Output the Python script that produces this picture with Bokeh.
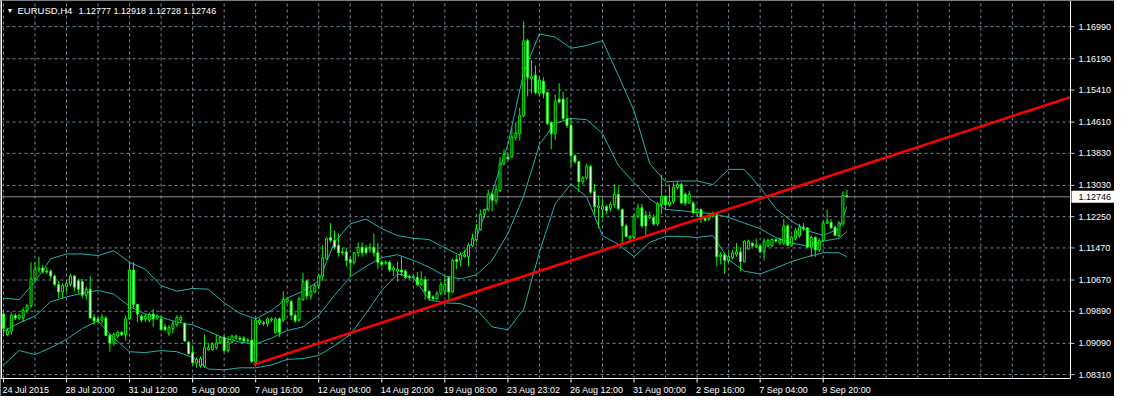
import numpy as np
from bokeh.plotting import figure
from bokeh.models import Range1d, Label, ColumnDataSource
from bokeh.core.properties import value
from bokeh.embed import file_html
from bokeh.resources import INLINE

symbol_title = "EURUSD,H4"
ohlc_title = "1.12777 1.12918 1.12728 1.12746"

opens = [
    1.0982, 1.0931, 1.0939, 1.0979, 1.0972, 1.0972, 1.0991, 1.1003, 1.1070, 1.1092,
    1.1097, 1.1089, 1.1089, 1.1077, 1.1056, 1.1037, 1.1051, 1.1056, 1.1077, 1.1065,
    1.1063, 1.1029, 1.1044, 1.0974, 1.0970, 1.0967, 1.0972, 1.0929, 1.0910, 1.0927,
    1.0936, 1.0931, 1.0970, 1.1092, 1.1006, 1.0977, 1.0970, 1.0967, 1.0982, 1.0972,
    1.0970, 1.0950, 1.0934, 1.0946, 1.0955, 1.0967, 1.0958, 1.0912, 1.0886, 1.0860,
    1.0852, 1.0852, 1.0893, 1.0893, 1.0898, 1.0910, 1.0924, 1.0891, 1.0912, 1.0922,
    1.0922, 1.0922, 1.0915, 1.0917, 1.0862, 1.0960, 1.0960, 1.0958, 1.0967, 1.0936,
    1.0970, 1.0967, 1.1013, 1.1013, 1.0979, 1.0967, 1.1018, 1.1065, 1.1027, 1.1037,
    1.1053, 1.1077, 1.1120, 1.1173, 1.1166, 1.1154, 1.1135, 1.1137, 1.1118, 1.1111,
    1.1135, 1.1149, 1.1147, 1.1144, 1.1149, 1.1135, 1.1111, 1.1109, 1.1111, 1.1092,
    1.1089, 1.1092, 1.1089, 1.1075, 1.1073, 1.1073, 1.1056, 1.1068, 1.1039, 1.1025,
    1.1020, 1.1034, 1.1039, 1.1073, 1.1037, 1.1118, 1.1116, 1.1125, 1.1125, 1.1152,
    1.1168, 1.1192, 1.1231, 1.1243, 1.1281, 1.1264, 1.1290, 1.1357, 1.1374, 1.1374,
    1.1422, 1.1432, 1.1477, 1.1664, 1.1570, 1.1578, 1.1532, 1.1563, 1.1535, 1.1460,
    1.1432, 1.1518, 1.1518, 1.1470, 1.1453, 1.1377, 1.1362, 1.1312, 1.1322, 1.1350,
    1.1288, 1.1247, 1.1243, 1.1250, 1.1245, 1.1255, 1.1281, 1.1243, 1.1202, 1.1171,
    1.1173, 1.1226, 1.1247, 1.1228, 1.1223, 1.1223, 1.1207, 1.1255, 1.1276, 1.1255,
    1.1262, 1.1298, 1.1305, 1.1281, 1.1259, 1.1259, 1.1235, 1.1243, 1.1221, 1.1219,
    1.1226, 1.1228, 1.1125, 1.1130, 1.1116, 1.1123, 1.1130, 1.1137, 1.1113, 1.1144,
    1.1159, 1.1149, 1.1152, 1.1137, 1.1152, 1.1152, 1.1168, 1.1159, 1.1159, 1.1202,
    1.1154, 1.1171, 1.1178, 1.1199, 1.1197, 1.1149, 1.1173, 1.1142, 1.1166, 1.1209,
    1.1211, 1.1199, 1.1178, 1.1207, 1.12777,
]
highs = [
    1.0994, 1.0948, 1.0986, 1.0984, 1.0984, 1.0998, 1.1008, 1.1111, 1.1111, 1.1125,
    1.1104, 1.1099, 1.1094, 1.1080, 1.1065, 1.1058, 1.1063, 1.1082, 1.1080, 1.1070,
    1.1070, 1.1051, 1.1077, 1.0982, 1.0974, 1.0982, 1.0977, 1.0934, 1.0936, 1.0941,
    1.0939, 1.0979, 1.1113, 1.1111, 1.1008, 1.0982, 1.0982, 1.0986, 1.0994, 1.0982,
    1.0979, 1.0958, 1.0955, 1.0965, 1.0979, 1.0979, 1.0962, 1.0915, 1.0903, 1.0874,
    1.0876, 1.0931, 1.0910, 1.0912, 1.0931, 1.0927, 1.0929, 1.0927, 1.0931, 1.0931,
    1.0927, 1.0927, 1.0922, 1.0970, 1.0974, 1.0972, 1.0965, 1.0974, 1.0974, 1.0974,
    1.0974, 1.1039, 1.1025, 1.1018, 1.0986, 1.1025, 1.1085, 1.1068, 1.1053, 1.1058,
    1.1082, 1.1154, 1.1173, 1.1209, 1.1190, 1.1183, 1.1147, 1.1147, 1.1125, 1.1137,
    1.1161, 1.1161, 1.1154, 1.1159, 1.1183, 1.1159, 1.1116, 1.1116, 1.1116, 1.1101,
    1.1113, 1.1125, 1.1094, 1.1080, 1.1080, 1.1087, 1.1089, 1.1077, 1.1041, 1.1029,
    1.1039, 1.1063, 1.1077, 1.1075, 1.1120, 1.1130, 1.1137, 1.1142, 1.1159, 1.1183,
    1.1207, 1.1243, 1.1245, 1.1293, 1.1286, 1.1305, 1.1374, 1.1393, 1.1386, 1.1448,
    1.1460, 1.1496, 1.1712, 1.1669, 1.1616, 1.1602, 1.1575, 1.1573, 1.1537, 1.1463,
    1.1530, 1.1558, 1.1537, 1.1523, 1.1470, 1.1381, 1.1365, 1.1326, 1.1357, 1.1355,
    1.1307, 1.1278, 1.1269, 1.1255, 1.1262, 1.1305, 1.1302, 1.1245, 1.1207, 1.1178,
    1.1233, 1.1257, 1.1257, 1.1240, 1.1238, 1.1231, 1.1262, 1.1329, 1.1278, 1.1305,
    1.1310, 1.1314, 1.1310, 1.1286, 1.1290, 1.1264, 1.1245, 1.1245, 1.1226, 1.1233,
    1.1238, 1.1231, 1.1137, 1.1135, 1.1135, 1.1142, 1.1159, 1.1147, 1.1166, 1.1168,
    1.1161, 1.1171, 1.1156, 1.1171, 1.1171, 1.1171, 1.1171, 1.1173, 1.1219, 1.1207,
    1.1178, 1.1197, 1.1207, 1.1209, 1.1199, 1.1178, 1.1176, 1.1171, 1.1214, 1.1243,
    1.1219, 1.1202, 1.1214, 1.1288, 1.12918,
]
lows = [
    1.0927, 1.0927, 1.0931, 1.0967, 1.0967, 1.0962, 1.0984, 1.0998, 1.1063, 1.1085,
    1.1082, 1.1082, 1.1070, 1.1051, 1.1022, 1.1022, 1.1039, 1.1051, 1.1039, 1.1034,
    1.1022, 1.1018, 1.0970, 1.0955, 1.0960, 1.0958, 1.0927, 1.0888, 1.0903, 1.0922,
    1.0927, 1.0915, 1.0967, 1.0998, 1.0962, 1.0962, 1.0962, 1.0962, 1.0950, 1.0967,
    1.0941, 1.0939, 1.0927, 1.0934, 1.0950, 1.0960, 1.0912, 1.0881, 1.0855, 1.0848,
    1.0848, 1.0848, 1.0891, 1.0891, 1.0893, 1.0907, 1.0888, 1.0886, 1.0910, 1.0917,
    1.0915, 1.0910, 1.0912, 1.0860, 1.0857, 1.0955, 1.0953, 1.0950, 1.0962, 1.0934,
    1.0924, 1.0962, 1.1010, 1.0967, 1.0960, 1.0962, 1.1015, 1.1018, 1.1018, 1.1034,
    1.1044, 1.1065, 1.1118, 1.1161, 1.1144, 1.1125, 1.1130, 1.1101, 1.1077, 1.1106,
    1.1125, 1.1125, 1.1130, 1.1135, 1.1125, 1.1094, 1.1101, 1.1104, 1.1087, 1.1077,
    1.1063, 1.1077, 1.1070, 1.1068, 1.1068, 1.1051, 1.1051, 1.1018, 1.1015, 1.1018,
    1.1018, 1.1029, 1.1029, 1.1015, 1.1034, 1.1094, 1.1101, 1.1123, 1.1101, 1.1149,
    1.1161, 1.1190, 1.1221, 1.1238, 1.1238, 1.1255, 1.1286, 1.1353, 1.1365, 1.1372,
    1.1415, 1.1415, 1.1472, 1.1525, 1.1532, 1.1530, 1.1525, 1.1520, 1.1453, 1.1393,
    1.1417, 1.1508, 1.1465, 1.1446, 1.1350, 1.1357, 1.1286, 1.1305, 1.1317, 1.1281,
    1.1231, 1.1197, 1.1221, 1.1231, 1.1238, 1.1247, 1.1240, 1.1154, 1.1173, 1.1166,
    1.1171, 1.1221, 1.1197, 1.1176, 1.1219, 1.1202, 1.1202, 1.1231, 1.1243, 1.1250,
    1.1257, 1.1293, 1.1257, 1.1252, 1.1257, 1.1231, 1.1226, 1.1209, 1.1214, 1.1214,
    1.1223, 1.1101, 1.1106, 1.1082, 1.1111, 1.1118, 1.1125, 1.1089, 1.1111, 1.1142,
    1.1149, 1.1147, 1.1135, 1.1116, 1.1149, 1.1149, 1.1161, 1.1154, 1.1154, 1.1152,
    1.1149, 1.1166, 1.1173, 1.1190, 1.1147, 1.1125, 1.1125, 1.1137, 1.1161, 1.1207,
    1.1195, 1.1176, 1.1173, 1.1204, 1.12728,
]
closes = [
    1.0946, 1.0941, 1.0979, 1.0972, 1.0979, 1.0991, 1.1003, 1.1070, 1.1094, 1.1097,
    1.1089, 1.1087, 1.1077, 1.1056, 1.1037, 1.1053, 1.1058, 1.1077, 1.1049, 1.1044,
    1.1029, 1.1044, 1.0972, 1.0965, 1.0965, 1.0974, 1.0929, 1.0910, 1.0931, 1.0936,
    1.0931, 1.0970, 1.1092, 1.1006, 1.0982, 1.0967, 1.0977, 1.0982, 1.0970, 1.0977,
    1.0943, 1.0943, 1.0948, 1.0958, 1.0974, 1.0974, 1.0915, 1.0883, 1.0860, 1.0869,
    1.0871, 1.0898, 1.0898, 1.0907, 1.0910, 1.0924, 1.0891, 1.0912, 1.0927, 1.0927,
    1.0919, 1.0915, 1.0917, 1.0864, 1.0967, 1.0967, 1.0958, 1.0970, 1.0970, 1.0970,
    1.0936, 1.1018, 1.1020, 1.0979, 1.0965, 1.1020, 1.1063, 1.1027, 1.1039, 1.1053,
    1.1077, 1.1123, 1.1171, 1.1166, 1.1149, 1.1135, 1.1137, 1.1116, 1.1111, 1.1135,
    1.1149, 1.1135, 1.1135, 1.1149, 1.1135, 1.1111, 1.1106, 1.1111, 1.1092, 1.1097,
    1.1094, 1.1087, 1.1073, 1.1073, 1.1075, 1.1056, 1.1068, 1.1039, 1.1022, 1.1020,
    1.1034, 1.1056, 1.1056, 1.1037, 1.1116, 1.1113, 1.1130, 1.1130, 1.1154, 1.1171,
    1.1195, 1.1231, 1.1243, 1.1281, 1.1266, 1.1293, 1.1357, 1.1381, 1.1369, 1.1424,
    1.1434, 1.1477, 1.1664, 1.1573, 1.1575, 1.1535, 1.1566, 1.1532, 1.1458, 1.1432,
    1.1513, 1.1511, 1.1470, 1.1453, 1.1377, 1.1362, 1.1312, 1.1322, 1.1350, 1.1286,
    1.1250, 1.1252, 1.1252, 1.1240, 1.1255, 1.1281, 1.1245, 1.1202, 1.1176, 1.1176,
    1.1226, 1.1247, 1.1202, 1.1202, 1.1228, 1.1207, 1.1257, 1.1276, 1.1255, 1.1262,
    1.1298, 1.1305, 1.1259, 1.1259, 1.1281, 1.1235, 1.1243, 1.1219, 1.1216, 1.1228,
    1.1231, 1.1125, 1.1130, 1.1116, 1.1125, 1.1135, 1.1137, 1.1113, 1.1164, 1.1164,
    1.1152, 1.1154, 1.1137, 1.1164, 1.1166, 1.1168, 1.1164, 1.1168, 1.1202, 1.1154,
    1.1173, 1.1190, 1.1199, 1.1195, 1.1149, 1.1173, 1.1142, 1.1166, 1.1209, 1.1214,
    1.1197, 1.1178, 1.1209, 1.1278, 1.12746,
]

band_bars = [
    0, 4, 8, 12, 16, 20, 24, 28, 32, 36, 40, 44, 48, 52, 56, 60, 64, 68, 72, 76,
    80, 84, 88, 92, 96, 100, 104, 108, 112, 116, 120, 124, 128, 132, 136, 140,
    144, 148, 152, 156, 160, 164, 168, 172, 176, 180, 184, 188, 192, 196, 200,
    204, 208, 212, 214,
]
band_upper = [
    1.1022, 1.1018, 1.1063, 1.1120, 1.1132, 1.1132, 1.1128, 1.1140, 1.1111, 1.1094,
    1.1053, 1.1039, 1.1046, 1.1044, 1.1010, 1.0984, 1.0970, 1.0991, 1.1022, 1.1039,
    1.1065, 1.1161, 1.1207, 1.1219, 1.1195, 1.1178, 1.1171, 1.1168, 1.1147, 1.1128,
    1.1171, 1.1286, 1.1405, 1.1585, 1.1681, 1.1673, 1.1645, 1.1652, 1.1664, 1.1578,
    1.1489, 1.1357, 1.1312, 1.1314, 1.1314, 1.1305, 1.1343, 1.1343, 1.1298, 1.1245,
    1.1214, 1.1190, 1.1178, 1.1195, 1.1250,
]
band_middle = [
    1.0939, 1.0960, 1.0977, 1.1013, 1.1025, 1.1034, 1.1041, 1.1032, 1.1001, 1.0982,
    1.0974, 1.0962, 1.0955, 1.0939, 1.0922, 1.0912, 1.0907, 1.0922, 1.0941, 1.0950,
    1.0979, 1.1029, 1.1075, 1.1101, 1.1123, 1.1130, 1.1116, 1.1099, 1.1077, 1.1070,
    1.1080, 1.1116, 1.1183, 1.1276, 1.1405, 1.1458, 1.1470, 1.1467, 1.1432, 1.1353,
    1.1310, 1.1269, 1.1243, 1.1240, 1.1235, 1.1233, 1.1223, 1.1209, 1.1195, 1.1173,
    1.1159, 1.1152, 1.1164, 1.1171, 1.1188,
]
band_lower = [
    1.0855, 1.0891, 1.0881, 1.0898, 1.0919, 1.0946, 1.0965, 1.0922, 1.0888, 1.0886,
    1.0891, 1.0888, 1.0874, 1.0845, 1.0843, 1.0848, 1.0848, 1.0855, 1.0869, 1.0871,
    1.0879, 1.0903, 1.0931, 1.0984, 1.1041, 1.1082, 1.1073, 1.1018, 1.1010, 1.1008,
    1.0994, 1.0950, 1.0943, 1.0994, 1.1137, 1.1257, 1.1307, 1.1274, 1.1178, 1.1156,
    1.1125, 1.1161, 1.1176, 1.1176, 1.1173, 1.1178, 1.1118, 1.1089, 1.1082, 1.1097,
    1.1113, 1.1125, 1.1135, 1.1135, 1.1125,
]

trend_bars = [63.5, 113.5]
trend_prices = [1.0856, 1.1017]
last_price = 1.12746
last_price_label = "1.12746"

price_ticks = [1.08310, 1.09090, 1.09890, 1.10670, 1.11470, 1.12250,
               1.13030, 1.13830, 1.14610, 1.15410, 1.16190, 1.16990]
time_tick_bars = [0, 16, 32, 48, 64, 80, 96, 112, 128, 144, 160, 176, 192, 208]
time_labels = ["24 Jul 2015", "28 Jul 20:00", "31 Jul 12:00", "5 Aug 00:00",
               "7 Aug 16:00", "12 Aug 04:00", "14 Aug 20:00", "19 Aug 08:00",
               "23 Aug 23:02", "26 Aug 12:00", "31 Aug 00:00", "2 Sep 16:00",
               "7 Sep 04:00", "9 Sep 20:00"]

# ---- styling / layout ----
FONT = "Liberation Sans"
FS = "9px"
GRID = "#778899"
BAND = "#20B2AA"
CANDLE = "#00FF00"
CANVAS_W, CANVAS_H = 1114, 396
PLOT_W, PLOT_H = 1070, 378          # chart area; rest is the price / time scales
XL, XR = -0.75, 270.75               # visible bar span of the chart area
YB, YT = 1.08213, 1.17643            # visible price span of the chart area
bpp = (XR - XL) / PLOT_W             # bars per pixel
ppp = (YT - YB) / PLOT_H             # price per pixel

p = figure(width=CANVAS_W, height=CANVAS_H, output_backend="svg", toolbar_location=None,
           x_range=Range1d(XL, XL + CANVAS_W * bpp),
           y_range=Range1d(YB - (CANVAS_H - PLOT_H) * ppp, YT),
           x_axis_location=None, y_axis_location=None,
           min_border_left=0, min_border_top=0, min_border_right=0, min_border_bottom=0,
           background_fill_color="black", border_fill_color="black",
           outline_line_color=None)
p.xgrid.visible = False
p.ygrid.visible = False

# dashed grid inside the chart area
grid_bars = list(range(0, int(XR) + 1, 8))
p.segment(x0=XL, x1=XR, y0=price_ticks, y1=price_ticks,
          line_color=GRID, line_dash="3 3", line_width=1)
p.segment(x0=grid_bars, x1=grid_bars, y0=YB, y1=YT,
          line_color=GRID, line_dash="3 3", line_width=1)

# current price line
p.segment(x0=XL, x1=XR, y0=last_price, y1=last_price, line_color="#8f8f8f", line_width=1)

# bollinger bands
for band in (band_upper, band_middle, band_lower):
    p.line(band_bars, band, line_color=BAND, line_width=1)

# candles
o = np.array(opens); c = np.array(closes)
src = ColumnDataSource(dict(
    x=list(range(len(opens))), h=highs, l=lows,
    top=np.maximum(o, c), bottom=np.minimum(o, c),
    fill=["black" if cc >= oo else "white" for oo, cc in zip(opens, closes)],
))
p.segment(x0="x", y0="h", x1="x", y1="l", source=src, line_color=CANDLE, line_width=1)
p.vbar(x="x", top="top", bottom="bottom", width=0.5, fill_color="fill",
       line_color=CANDLE, line_width=1, source=src)

# trend line (ray to the right edge of the chart area)
slope = (trend_prices[1] - trend_prices[0]) / (trend_bars[1] - trend_bars[0])
p.line([trend_bars[0], XR], [trend_prices[0], trend_prices[0] + slope * (XR - trend_bars[0])],
       line_color="#FF0000", line_width=2.5)

# chart frame (left, right, bottom)
p.segment(x0=[XL + bpp, XR, XL], x1=[XL + bpp, XR, XR],
          y0=[YB, YB, YB], y1=[YT, YT, YB], line_color="white", line_width=1)

# price scale: ticks + labels
p.segment(x0=XR, x1=XR + 4 * bpp, y0=price_ticks, y1=price_ticks,
          line_color="#c8c8c8", line_width=1)
p.text(x=[XR] * len(price_ticks), y=price_ticks, text=["%.5f" % t for t in price_ticks],
       x_offset=8, text_color="white", text_font=value(FONT), text_font_size=FS,
       text_align="left", text_baseline="middle")

# price tag for the current price
p.quad(left=XR + bpp, right=XL + CANVAS_W * bpp, bottom=last_price - 6 * ppp,
       top=last_price + 6 * ppp, fill_color="white", line_color=None)
p.text(x=[XR], y=[last_price], text=[last_price_label], x_offset=8,
       text_color="black", text_font=value(FONT), text_font_size=FS,
       text_align="left", text_baseline="middle")

# time scale: ticks + left aligned labels
p.segment(x0=time_tick_bars, x1=time_tick_bars, y0=YB, y1=YB - 4 * ppp,
          line_color="white", line_width=1)
p.text(x=time_tick_bars, y=[YB] * len(time_tick_bars), text=time_labels,
       x_offset=-1, y_offset=6, text_color="white", text_font=value(FONT),
       text_font_size=FS, text_align="left", text_baseline="top")

# header text
p.add_layout(Label(x=6, y=CANVAS_H - 10, x_units="screen", y_units="screen", text="▼",
                   text_color="white", text_font=FONT, text_font_size="7px",
                   text_baseline="middle"))
p.add_layout(Label(x=17, y=CANVAS_H - 10, x_units="screen", y_units="screen",
                   text=symbol_title, text_color="white", text_font=FONT,
                   text_font_size="9.5px", text_baseline="middle"))
p.add_layout(Label(x=78, y=CANVAS_H - 10, x_units="screen", y_units="screen",
                   text=ohlc_title, text_color="white", text_font=FONT,
                   text_font_size=FS, text_baseline="middle"))

open("out.html", "w").write(file_html(p, INLINE))
